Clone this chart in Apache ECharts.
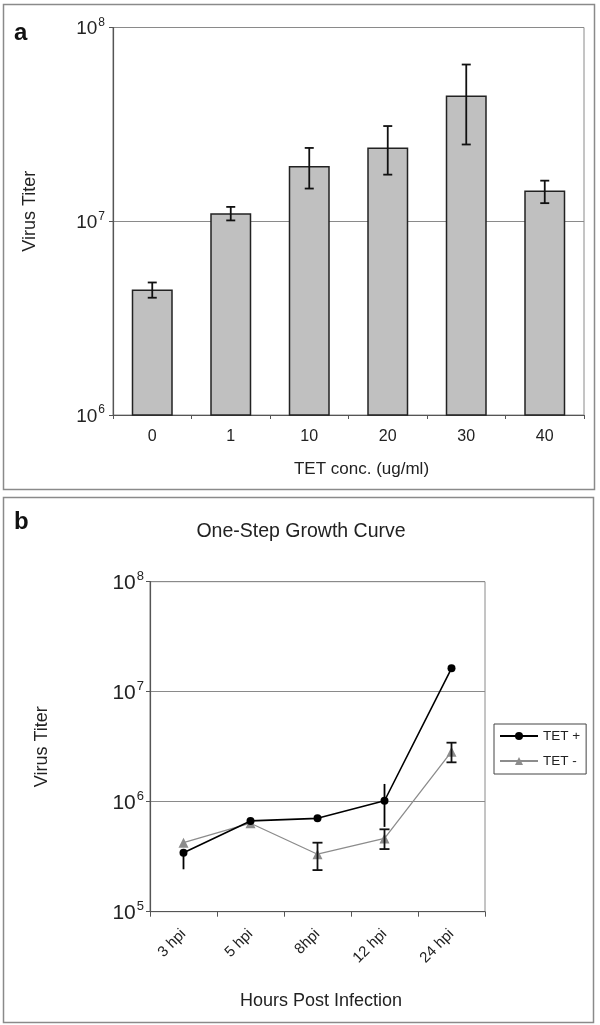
<!DOCTYPE html>
<html>
<head>
<meta charset="utf-8">
<script src="https://cdn.jsdelivr.net/npm/echarts@6/dist/echarts.min.js"></script>
<style>html,body{margin:0;padding:0;background:#fff}#c{width:600px;height:1025px}</style>
</head>
<body>
<div id="c"></div>
<script>
// Panel a
const concCategories = ['0', '1', '10', '20', '30', '40'];
const concTiter = [4.45e6, 1.10e7, 1.93e7, 2.40e7, 4.46e7, 1.44e7];
const concErrLow = [4.03e6, 1.01e7, 1.475e7, 1.74e7, 2.49e7, 1.24e7];
const concErrHigh = [4.83e6, 1.186e7, 2.39e7, 3.10e7, 6.44e7, 1.62e7];

// Panel b
const hpiCategories = ['3 hpi', '5 hpi', '8hpi', '12 hpi', '24 hpi'];
const tetPlus = [3.43e5, 6.69e5, 7.06e5, 1.02e6, 1.63e7];
const tetPlusErrLow = [2.43e5, null, null, 5.9e5, 1.55e7];
const tetPlusErrHigh = [3.43e5, null, null, 1.45e6, 1.63e7];
const tetMinus = [4.24e5, 6.37e5, 3.33e5, 4.64e5, 2.85e6];
const tetMinusErrLow = [null, null, 2.39e5, 3.71e5, 2.28e6];
const tetMinusErrHigh = [null, null, 4.24e5, 5.61e5, 3.44e6];

const FONT = 'Liberation Sans, Arial, sans-serif';

function powLabel(v) {
  const e = Math.round(Math.log10(v));
  return '{b|10}{s|' + e + '}';
}
function powRich(big, small, lh) {
  return {
    b: { fontSize: big, fontFamily: FONT, color: '#222', verticalAlign: 'bottom', lineHeight: lh },
    s: { fontSize: small, fontFamily: FONT, color: '#222', verticalAlign: 'top', lineHeight: lh, padding: [0, 0, 0, 1] }
  };
}

function errItem(color, cap, lowArr, highArr) {
  return function (params, api) {
    const i = params.dataIndex;
    if (lowArr[i] == null) return null;
    const lo = api.coord([i, lowArr[i]]);
    const hi = api.coord([i, highArr[i]]);
    const x = lo[0];
    const children = [{
      type: 'line', shape: { x1: x, y1: lo[1], x2: x, y2: hi[1] },
      style: { stroke: color, lineWidth: 1.8 }
    }];
    if (cap > 0) {
      children.push({ type: 'line', shape: { x1: x - cap, y1: lo[1], x2: x + cap, y2: lo[1] }, style: { stroke: color, lineWidth: 1.8 } });
      children.push({ type: 'line', shape: { x1: x - cap, y1: hi[1], x2: x + cap, y2: hi[1] }, style: { stroke: color, lineWidth: 1.8 } });
    }
    return { type: 'group', children: children };
  };
}

const chart = echarts.init(document.getElementById('c'), null, { renderer: 'canvas' });

const option = {
  backgroundColor: '#fff',
  animation: false,
  textStyle: { fontFamily: FONT },
  grid: [
    { left: 113, top: 27.5, right: 16, bottom: 610, show: true, borderColor: '#8a8a8a', borderWidth: 1, containLabel: false, outerBoundsMode: 'none' },
    { left: 150, top: 581.7, right: 115, bottom: 113.3, show: true, borderColor: '#8a8a8a', borderWidth: 1, containLabel: false, outerBoundsMode: 'none' }
  ],
  xAxis: [
    {
      type: 'category', gridIndex: 0, data: concCategories,
      axisLine: { lineStyle: { color: '#555', width: 1.2 } },
      axisTick: { show: true, length: 4, lineStyle: { color: '#555' } },
      axisLabel: { color: '#222', fontSize: 16, margin: 14, fontFamily: FONT },
      name: 'TET conc. (ug/ml)', nameLocation: 'middle', nameGap: 46,
      nameTextStyle: { color: '#222', fontSize: 17, fontFamily: FONT, padding: [0, 0, 0, 26] }
    },
    {
      type: 'category', gridIndex: 1, data: hpiCategories,
      axisLine: { lineStyle: { color: '#555', width: 1.2 } },
      axisTick: { show: true, length: 5, lineStyle: { color: '#555' } },
      axisLabel: { color: '#222', fontSize: 15, margin: 20, rotate: 45, fontFamily: FONT },
      name: 'Hours Post Infection', nameLocation: 'middle', nameGap: 80,
      nameTextStyle: { color: '#222', fontSize: 18, fontFamily: FONT, padding: [0, 0, 0, 7] }
    }
  ],
  yAxis: [
    {
      type: 'log', logBase: 10, gridIndex: 0, min: 1e6, max: 1e8,
      axisLine: { show: true, lineStyle: { color: '#555', width: 1.2 } },
      axisTick: { show: true, length: 4, lineStyle: { color: '#555' } },
      minorTick: { show: false },
      splitLine: { show: true, lineStyle: { color: '#8a8a8a', width: 1 } },
      axisLabel: { formatter: powLabel, rich: powRich(19, 12, 22), margin: 8 },
      name: 'Virus Titer', nameLocation: 'middle', nameGap: 74, nameRotate: 90,
      nameTextStyle: { color: '#222', fontSize: 18, fontFamily: FONT, padding: [0, 0, 0, 20] }
    },
    {
      type: 'log', logBase: 10, gridIndex: 1, min: 1e5, max: 1e8,
      axisLine: { show: true, lineStyle: { color: '#555', width: 1.2 } },
      axisTick: { show: true, length: 4, lineStyle: { color: '#555' } },
      minorTick: { show: false },
      splitLine: { show: true, lineStyle: { color: '#8a8a8a', width: 1 } },
      axisLabel: { formatter: powLabel, rich: powRich(21, 13, 24), margin: 6 },
      name: 'Virus Titer', nameLocation: 'middle', nameGap: 99, nameRotate: 90,
      nameTextStyle: { color: '#222', fontSize: 18, fontFamily: FONT }
    }
  ],
  legend: {
    data: ['TET +', 'TET -'],
    orient: 'vertical', left: 494, top: 724,
    backgroundColor: '#fff',
    borderColor: '#444', borderWidth: 1,
    padding: [5, 6, 6, 5],
    itemWidth: 38, itemHeight: 10, itemGap: 11,
    textStyle: { color: '#222', fontSize: 13.5, fontFamily: FONT }
  },
  series: [
    {
      type: 'bar', xAxisIndex: 0, yAxisIndex: 0, data: concTiter, barWidth: 41, clip: true,
      itemStyle: { color: '#c0c0c0', borderColor: '#222', borderWidth: 1.5 },
      silent: true
    },
    {
      type: 'custom', xAxisIndex: 0, yAxisIndex: 0, data: concTiter.map((v, i) => [i, v]),
      renderItem: errItem('#111', 4.5, concErrLow, concErrHigh), z: 5, silent: true
    },
    {
      name: 'TET +', type: 'line', xAxisIndex: 1, yAxisIndex: 1, data: tetPlus,
      symbol: 'circle', symbolSize: 8,
      lineStyle: { color: '#000', width: 1.6 }, itemStyle: { color: '#000' }, z: 4
    },
    {
      name: 'TET -', type: 'line', xAxisIndex: 1, yAxisIndex: 1, data: tetMinus,
      symbol: 'triangle', symbolSize: 10,
      lineStyle: { color: '#8c8c8c', width: 1.3 }, itemStyle: { color: '#8c8c8c' }, z: 3
    },
    {
      type: 'custom', xAxisIndex: 1, yAxisIndex: 1, data: tetPlus.map((v, i) => [i, v]),
      renderItem: errItem('#000', 0, tetPlusErrLow, tetPlusErrHigh), z: 6, silent: true
    },
    {
      type: 'custom', xAxisIndex: 1, yAxisIndex: 1, data: tetMinus.map((v, i) => [i, v]),
      renderItem: errItem('#111', 5, tetMinusErrLow, tetMinusErrHigh), z: 6, silent: true
    }
  ],
  graphic: [
    { type: 'rect', shape: { x: 3.5, y: 4.5, width: 591, height: 485 }, style: { fill: 'none', stroke: '#8a8a8a', lineWidth: 1.5 }, z: 100, silent: true },
    { type: 'rect', shape: { x: 3.5, y: 497.5, width: 590, height: 525 }, style: { fill: 'none', stroke: '#8a8a8a', lineWidth: 1.5 }, z: 100, silent: true },
    { type: 'text', left: 14, top: 21, style: { text: 'a', fontSize: 24, fontWeight: 'bold', fontFamily: FONT, fill: '#111' }, z: 100 },
    { type: 'text', left: 14, top: 510, style: { text: 'b', fontSize: 24, fontWeight: 'bold', fontFamily: FONT, fill: '#111' }, z: 100 },
    { type: 'text', x: 301, y: 532, style: { text: 'One-Step Growth Curve', fontSize: 19.5, fontFamily: FONT, fill: '#222', align: 'center', verticalAlign: 'middle' }, z: 100 }
  ]
};
chart.setOption(option);
</script>
</body>
</html>
